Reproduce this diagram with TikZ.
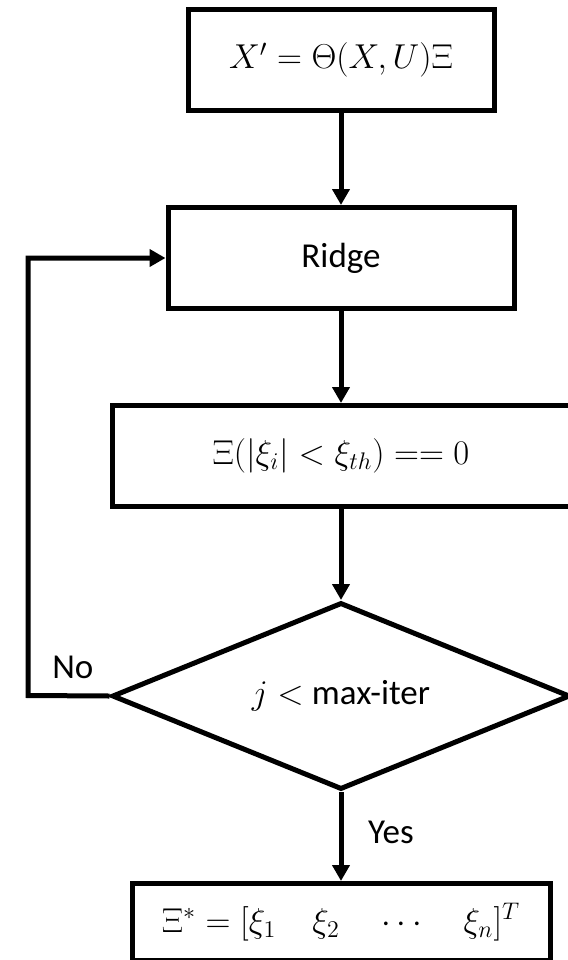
\documentclass[tikz,border=0pt]{standalone}
\usepackage{amsmath,amssymb}
\usepackage{fontspec}
\setmainfont{Carlito}
\usetikzlibrary{shapes.geometric,positioning,arrows.meta}
\tikzset{
  box/.style={draw,line width=2.5pt,minimum height=50.5pt,inner sep=0pt},
  decision/.style={draw,diamond,line width=2.5pt,aspect=2.45,minimum width=229pt,
    minimum height=93.5pt,inner sep=0pt},
  lbl/.style={font=\fontsize{17.5}{20}\selectfont},
  >={Triangle[length=8pt,width=8.5pt]},
}

\begin{document}
\begin{tikzpicture}[x=0.5pt,y=-0.5pt,line width=2.5pt,node distance=46pt,
    font=\fontsize{18}{21}\selectfont]
  \useasboundingbox (0,0) rectangle (568,960);
  \node[box,minimum width=153pt]            (model) at (341,60) {$X' = \Theta(X,U)\Xi$};
  \node[box,minimum width=173pt,below=of model]  (ridge)  {\fontsize{17.5}{20}\selectfont Ridge};
  \node[box,minimum width=229pt,below=of ridge]  (thresh) {$\Xi(|\xi_i| < \xi_{th}) == 0$};
  \node[decision,below=45.5pt of thresh]         (iter)   {$j <$ \fontsize{17.5}{20}\selectfont max-iter};
  \node[box,minimum width=209pt,minimum height=38.5pt,below=44.5pt of iter] (result)
    {$\Xi^{*} = [\xi_1\quad \xi_2\quad \cdots\quad \xi_n]^{T}$};
  \coordinate (back) at (28,695.5);
  \draw[->] (model) -- (ridge);
  \draw[->] (ridge) -- (thresh);
  \draw[->] (thresh) -- (iter);
  \draw[->] (iter) -- node[lbl,right=9pt,pos=0.45] {Yes} (result);
  \draw[->] (iter.west) -- node[lbl,above=4pt,pos=0.45] {No} (back) |- (ridge.west);
\end{tikzpicture}
\end{document}
